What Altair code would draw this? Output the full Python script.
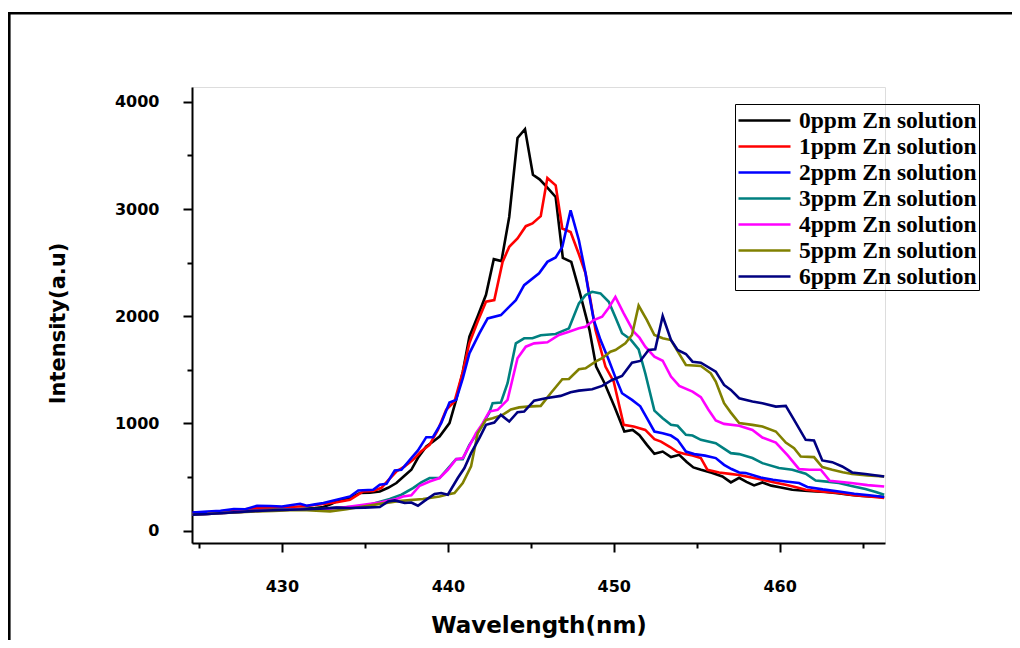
import altair as alt
import pandas as pd

series_labels = ["0ppm Zn solution", "1ppm Zn solution", "2ppm Zn solution",
                 "3ppm Zn solution", "4ppm Zn solution", "5ppm Zn solution",
                 "6ppm Zn solution"]
series_colors = ["#000000", "#ff0000", "#0000ff", "#008080", "#ff00ff", "#808000", "#000080"]

wl_0 = [424.6, 425.5, 426.5, 427.5, 428.5, 429.5, 430.5, 431.1, 432.0, 432.5, 433.0, 433.5, 434.1,
        434.7, 435.3, 435.9, 436.4, 436.9, 437.3, 437.8, 438.2, 438.7, 439.1, 439.5, 440.1, 440.5,
        440.9, 441.3, 441.8, 442.3, 442.77, 443.23, 443.7, 444.2, 444.65, 445.13, 445.53, 446.0,
        446.5, 446.93, 447.44, 447.94, 448.54, 448.94, 449.44, 450.04, 450.64, 451.14, 451.55,
        452.0, 452.45, 452.95, 453.45, 453.95, 454.4, 454.8, 455.26, 455.9, 456.55, 457.06, 457.56,
        458.0, 458.46, 458.96, 459.5, 460.0, 460.76, 461.5, 462.2, 462.77, 463.5, 464.2, 464.77,
        465.5, 466.3]
int_0 = [170, 165, 175, 185, 196, 200, 198, 202, 210, 221, 250, 289, 304,
         351, 355, 366, 400, 444, 500, 568, 680, 785, 830, 878, 1003, 1220,
         1480, 1809, 2000, 2200, 2532, 2514, 2926, 3662, 3745, 3320, 3277, 3200,
         3112, 2545, 2507, 2230, 1871, 1530, 1378, 1157, 925, 940, 890,
         800, 717, 738, 686, 707, 640, 590, 568, 540, 506, 450, 493,
         455, 422, 450, 420, 405, 382, 372, 365, 360, 350, 335, 326,
         320, 314]

wl_1 = [424.6, 425.5, 426.5, 427.5, 428.5, 429.5, 430.5, 431.5, 432.5, 433.3, 434.1, 434.9, 435.5,
        436.0, 436.4, 436.9, 437.4, 437.9, 438.4, 438.9, 439.4, 439.9, 440.4, 440.9, 441.3, 441.8,
        442.3, 442.8, 443.3, 443.7, 444.2, 444.7, 445.1, 445.6, 446.0, 446.5, 446.9, 447.4, 447.9,
        448.3, 448.6, 448.9, 449.5, 450.0, 450.6, 451.2, 451.9, 452.45, 452.85, 453.4, 453.85,
        454.3, 454.75, 455.25, 455.65, 456.35, 457.0, 457.56, 458.3, 458.96, 459.7, 460.37, 461.0,
        461.57, 462.5, 463.57, 464.5, 465.4, 466.3]
int_1 = [165, 170, 180, 195, 211, 215, 221, 230, 249, 265, 289, 366, 370,
         400, 470, 552, 600, 661, 740, 800, 940, 1127, 1204, 1480, 1750, 1950,
         2135, 2150, 2507, 2647, 2725, 2840, 2865, 2933, 3290, 3221, 2818, 2786, 2578,
         2400, 2150, 1871, 1530, 1390, 987, 971, 940, 854, 831, 780, 733,
         715, 701, 677, 568, 543, 530, 519, 495, 475, 450, 428, 405,
         382, 365, 351, 330, 318, 304]

wl_2 = [424.6, 425.5, 426.3, 427.1, 427.8, 428.5, 429.3, 430.0, 430.6, 431.1, 431.5, 432.0, 432.5,
        433.3, 434.1, 434.6, 435.5, 435.9, 436.3, 436.8, 437.2, 437.8, 438.2, 438.7, 439.1, 439.6,
        440.1, 440.5, 440.9, 441.3, 441.9, 442.4, 443.2, 443.8, 444.1, 444.6, 445.5, 446.0, 446.5,
        446.9, 447.4, 447.9, 448.3, 448.5, 448.8, 449.2, 449.7, 450.1, 450.5, 451.1, 451.6, 452.0,
        452.45, 452.95, 453.45, 453.85, 454.35, 454.85, 455.5, 456.15, 456.65, 457.1, 457.56,
        457.96, 458.86, 459.6, 460.37, 461.17, 461.67, 462.6, 463.57, 464.5, 465.4, 466.3]
int_2 = [170, 178, 185, 202, 200, 233, 230, 225, 240, 251, 233, 245, 258,
         289, 319, 375, 382, 428, 437, 561, 568, 677, 748, 872, 872, 1003,
         1195, 1220, 1420, 1654, 1840, 1980, 2011, 2104, 2150, 2290, 2400, 2507, 2548,
         2647, 2988, 2709, 2400, 2213, 1964, 1780, 1592, 1430, 1282, 1220, 1160, 1050,
         925, 909, 887, 847, 738, 714, 700, 677, 614, 575, 543,
         537, 496, 475, 459, 444, 407, 385, 366, 345, 330, 314]

wl_3 = [424.6, 425.5, 426.5, 427.5, 428.5, 429.5, 430.5, 431.5, 432.5, 433.3, 434.1, 434.9, 435.7,
        436.5, 437.2, 437.9, 438.4, 438.9, 439.5, 440.0, 440.5, 440.9, 441.3, 441.9, 442.5, 442.7,
        443.2, 443.6, 444.1, 444.6, 445.1, 445.6, 446.5, 447.3, 447.9, 448.3, 448.7, 449.2, 449.7,
        450.1, 450.5, 451.0, 451.5, 451.9, 452.45, 452.95, 453.45, 453.85, 454.35, 454.75, 455.25,
        456.15, 456.6, 457.06, 457.56, 458.36, 458.96, 459.96, 460.76, 461.57, 462.17, 463.0,
        463.57, 464.4, 465.17, 465.8, 466.3]
int_3 = [150, 155, 165, 175, 189, 195, 200, 202, 205, 215, 220, 226, 260,
         295, 335, 397, 450, 491, 491, 580, 667, 667, 800, 940, 1100, 1189,
         1195, 1375, 1747, 1794, 1794, 1822, 1834, 1887, 2120, 2197, 2228, 2213, 2135,
         1990, 1841, 1785, 1690, 1468, 1120, 1049, 987, 978, 894, 887, 847,
         816, 770, 723, 714, 677, 630, 584, 568, 531, 468, 455,
         444, 415, 388, 360, 335]

wl_4 = [424.6, 425.5, 426.5, 427.5, 428.5, 429.5, 430.5, 431.5, 432.5, 433.9, 434.9, 435.9, 436.9,
        437.3, 437.8, 438.3, 438.9, 439.5, 440.0, 440.5, 440.9, 441.3, 441.7, 442.1, 442.5, 443.0,
        443.6, 444.2, 444.7, 445.2, 446.0, 446.7, 447.3, 447.9, 448.3, 448.8, 449.3, 449.7, 450.1,
        450.6, 451.2, 451.55, 451.9, 452.45, 452.95, 453.45, 453.95, 454.75, 455.25, 455.7, 456.15,
        456.65, 457.56, 458.36, 458.96, 459.77, 460.5, 461.17, 461.8, 462.48, 463.02, 464.32,
        465.3, 466.3]
int_4 = [150, 155, 165, 175, 185, 190, 195, 198, 200, 220, 242, 263, 295,
         319, 329, 419, 459, 491, 568, 667, 677, 790, 909, 1000, 1111, 1127,
         1220, 1608, 1716, 1747, 1757, 1825, 1856, 1887, 1902, 1964, 1995, 2080, 2181,
         2027, 1856, 1800, 1716, 1623, 1585, 1437, 1350, 1297, 1245, 1130, 1027,
         996, 978, 940, 869, 822, 700, 574, 568, 568, 466, 444,
         425, 412]

wl_5 = [424.6, 425.5, 426.5, 427.5, 428.5, 429.5, 430.5, 431.5, 432.9, 433.9, 434.9, 435.9, 436.9,
        437.7, 438.5, 439.5, 439.9, 440.4, 440.9, 441.4, 441.8, 442.3, 442.7, 443.3, 443.8, 444.3,
        444.8, 445.6, 446.2, 446.9, 447.3, 447.9, 448.3, 448.9, 449.3, 449.8, 450.1, 450.7, 451.1,
        451.5, 452.0, 452.45, 452.95, 453.45, 453.9, 454.35, 455.25, 455.85, 456.15, 456.65,
        457.06, 457.56, 458.36, 458.96, 459.77, 460.37, 460.87, 461.27, 462.07, 462.57, 463.17,
        463.8, 464.37, 465.3, 466.3]
int_5 = [150, 155, 165, 172, 180, 185, 190, 190, 180, 200, 226, 250, 273,
         285, 295, 319, 335, 351, 444, 599, 909, 1033, 1049, 1080, 1130, 1150,
         1157, 1164, 1282, 1412, 1415, 1505, 1515, 1576, 1608, 1669, 1685, 1747, 1825,
         2100, 1964, 1825, 1794, 1778, 1660, 1545, 1536, 1468, 1390, 1189,
         1101, 1003, 987, 971, 925, 822, 770, 692, 686, 593, 568,
         545, 528, 515, 506]

wl_6 = [424.6, 425.5, 426.5, 427.5, 428.5, 429.5, 430.5, 431.5, 432.3, 433.3, 434.1, 435.0, 435.9,
        436.4, 436.8, 437.4, 437.8, 438.2, 438.7, 439.2, 439.6, 440.0, 440.6, 441.0, 441.4, 441.9,
        442.3, 442.8, 443.2, 443.7, 444.2, 444.6, 445.2, 445.9, 446.8, 447.4, 447.9, 448.7, 449.3,
        449.9, 450.5, 451.1, 451.6, 452.1, 452.5, 452.95, 453.45, 453.85, 454.35, 454.75, 455.25,
        456.15, 456.65, 457.06, 457.56, 458.36, 458.96, 459.77, 460.37, 460.87, 461.57, 462.07,
        462.57, 463.17, 463.77, 464.37, 465.17, 466.3]
int_6 = [150, 155, 165, 175, 185, 190, 195, 200, 205, 215, 211, 215, 221,
         273, 282, 258, 263, 233, 289, 342, 351, 335, 491, 584, 723, 863,
         987, 1008, 1080, 1018, 1105, 1111, 1213, 1235, 1257, 1291, 1306, 1319, 1350,
         1406, 1443, 1567, 1583, 1685, 1691, 2002, 1778, 1685, 1648, 1576, 1567,
         1483, 1359, 1313, 1235, 1204, 1189, 1157, 1164, 1033, 847, 841,
         655, 639, 599, 543, 528, 506]

x_ticks = [425, 430, 435, 440, 445, 450, 455, 460, 465]
y_ticks = [0, 500, 1000, 1500, 2000, 2500, 3000, 3500, 4000]

all_wl = [wl_0, wl_1, wl_2, wl_3, wl_4, wl_5, wl_6]
all_int = [int_0, int_1, int_2, int_3, int_4, int_5, int_6]
rows = []
for k, (lab, ws, vs) in enumerate(zip(series_labels, all_wl, all_int)):
    for w, v in zip(ws, vs):
        rows.append({"wavelength": w, "intensity": v, "series": lab, "k": k})
df = pd.DataFrame(rows)

FONT = "DejaVu Sans"

lines = alt.Chart(df).mark_line(strokeWidth=2.6, clip=True).encode(
    x=alt.X("wavelength:Q",
            scale=alt.Scale(domain=[424.58, 466.35], nice=False, zero=False),
            axis=alt.Axis(values=x_ticks, format="d",
                          labelExpr="datum.value % 10 === 0 ? datum.label : ''",
                          tickSize={"condition": {"test": "datum.value % 10 === 0", "value": 9}, "value": 5},
                          tickWidth=2, tickColor="black", domainColor="black", domainWidth=2,
                          grid=False, labelFont=FONT, labelFontWeight="bold", labelFontSize=16,
                          labelColor="black", labelPadding=26,
                          title="Wavelength(nm)", titleFont=FONT, titleFontSize=23,
                          titleFontWeight="bold", titleColor="black",
                          titleBaseline="alphabetic", titleY=89)),
    y=alt.Y("intensity:Q",
            scale=alt.Scale(domain=[-115, 4138], nice=False, zero=False),
            axis=alt.Axis(values=y_ticks, format="d",
                          labelExpr="datum.value % 1000 === 0 ? datum.label : ''",
                          tickSize={"condition": {"test": "datum.value % 1000 === 0", "value": 9}, "value": 5},
                          tickWidth=2, tickColor="black", domainColor="black", domainWidth=2,
                          grid=False, labelFont=FONT, labelFontWeight="bold", labelFontSize=16,
                          labelColor="black", labelPadding=24,
                          title="Intensity(a.u)", titleFont=FONT, titleFontSize=21,
                          titleFontWeight="bold", titleColor="black",
                          titleBaseline="middle", titleX=-134, titleY=236)),
    color=alt.Color("series:N",
                    scale=alt.Scale(domain=series_labels, range=series_colors),
                    legend=alt.Legend(title=None, orient="none", legendX=543, legendY=17,
                                      symbolType="M-1,0L3,0", symbolSize=676,
                                      symbolStrokeWidth=2.6, labelFont="Liberation Serif",
                                      labelFontWeight="bold", labelFontSize=23.5, labelColor="black",
                                      labelOffset=33, labelLimit=400, strokeColor="black",
                                      padding=2, rowPadding=0)),
    order=alt.Order("wavelength:Q"),
)

frame_data = pd.DataFrame({"a": [0]})
frame_top = alt.Chart(frame_data).mark_rule(color="black", strokeWidth=2.6).encode(
    x=alt.value(-182.7), x2=alt.value(830), y=alt.value(-73.7))
frame_left = alt.Chart(frame_data).mark_rule(color="black", strokeWidth=2.6).encode(
    x=alt.value(-182.7), y=alt.value(-75), y2=alt.value(560))

chart = alt.layer(frame_top, frame_left, lines).properties(
    width=693, height=456,
    autosize=alt.AutoSizeParams(type="none"),
    padding={"left": 184, "top": 79, "right": 127, "bottom": 97},
).configure_view(stroke=None).configure(background="white")

chart.save("out.html", embed_options={"renderer": "svg", "actions": False})
